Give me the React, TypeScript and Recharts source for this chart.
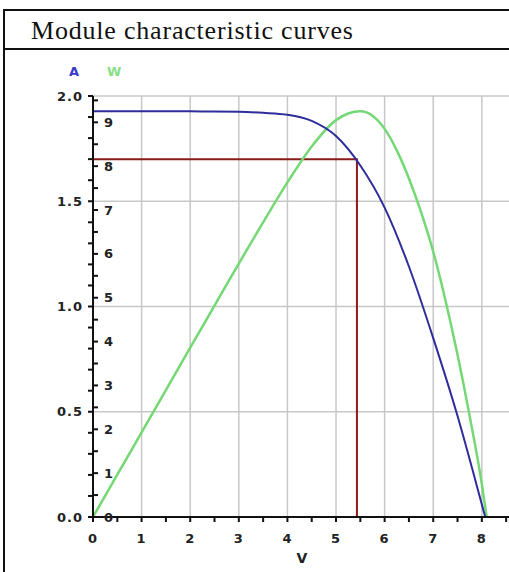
import React from 'react';
import { LineChart, Line, XAxis, YAxis, CartesianGrid } from 'recharts';

// I-V curve (current in A vs voltage in V)
const currentVoltage = [0, 0.5, 1, 1.5, 2, 2.5, 3, 3.5, 4, 4.5, 5, 5.5, 6, 6.5, 7, 7.5, 8, 8.07];
const currentAmps = [1.928, 1.928, 1.928, 1.928, 1.927, 1.926, 1.925, 1.92, 1.911, 1.882, 1.81, 1.67, 1.47, 1.19, 0.85, 0.48, 0.06, 0];

// P-V curve (power in W vs voltage in V)
const powerVoltage = [0, 0.5, 1, 1.5, 2, 2.5, 3, 3.5, 4, 4.5, 5, 5.25, 5.5, 5.75, 6, 6.25, 6.5, 6.75, 7, 7.25, 7.5, 7.75, 8, 8.1];
const powerWatts = [0, 0.965, 1.93, 2.895, 3.86, 4.82, 5.78, 6.72, 7.63, 8.45, 9.05, 9.2, 9.25, 9.15, 8.85, 8.36, 7.72, 6.95, 6.05, 4.95, 3.7, 2.3, 0.75, 0];

// maximum power point
const mppVoltage = 5.43;
const mppCurrent = 1.7;

// ticks
const xTicks = [0, 0.5, 1, 1.5, 2, 2.5, 3, 3.5, 4, 4.5, 5, 5.5, 6, 6.5, 7, 7.5, 8, 8.5];
const aTicks = [0, 0.1, 0.2, 0.3, 0.4, 0.5, 0.6, 0.7, 0.8, 0.9, 1.0, 1.1, 1.2, 1.3, 1.4, 1.5, 1.6, 1.7, 1.8, 1.9, 2.0];
const wTicks = [0, 0.5, 1, 1.5, 2, 2.5, 3, 3.5, 4, 4.5, 5, 5.5, 6, 6.5, 7, 7.5, 8, 8.5, 9, 9.5];
const xGrid = [1, 2, 3, 4, 5, 6, 7, 8];
const aGrid = [0.5, 1.0, 1.5, 2.0];

const currentData = currentVoltage.map((v, i) => ({ v, a: currentAmps[i] }));
const powerData = powerVoltage.map((v, i) => ({ v, w: powerWatts[i] }));
const mppData = [
  { v: 0, a: mppCurrent },
  { v: mppVoltage, a: mppCurrent },
  { v: mppVoltage, a: 0 },
];

const sansFont = '"DejaVu Sans", "Liberation Sans", Arial, sans-serif';
const tickFont = {
  fontSize: 13,
  fontWeight: 'bold',
  fontFamily: sansFont,
  fill: '#222',
  letterSpacing: 1,
};
const axisStroke = { stroke: '#111', strokeWidth: 2 };

export default function App() {
  return (
    <div
      style={{
        position: 'fixed',
        left: 0,
        top: 0,
        width: 509,
        height: 572,
        overflow: 'hidden',
        background: '#fff',
      }}
    >
      <div
        style={{
          position: 'absolute',
          left: 3,
          top: 9,
          width: 560,
          height: 620,
          border: '2px solid #111',
          boxSizing: 'border-box',
        }}
      />
      <div
        style={{
          position: 'absolute',
          left: 3,
          top: 48,
          width: 560,
          height: 2,
          background: '#111',
        }}
      />
      <div
        style={{
          position: 'absolute',
          left: 31,
          top: 18,
          fontFamily: '"Liberation Serif", "Times New Roman", serif',
          fontSize: 26,
          lineHeight: '26px',
          letterSpacing: 0.8,
          color: '#111',
          whiteSpace: 'nowrap',
        }}
      >
        Module characteristic curves
      </div>
      <div
        style={{
          position: 'absolute',
          left: 69,
          top: 64,
          fontFamily: sansFont,
          fontSize: 13,
          fontWeight: 'bold',
          lineHeight: '16px',
          color: '#3a3ac8',
        }}
      >
        A
      </div>
      <div
        style={{
          position: 'absolute',
          left: 107,
          top: 64,
          fontFamily: sansFont,
          fontSize: 13,
          fontWeight: 'bold',
          lineHeight: '16px',
          color: '#86e086',
        }}
      >
        W
      </div>
      <div style={{ position: 'absolute', left: 0, top: 0 }}>
        <LineChart
          width={530}
          height={572}
          margin={{ top: 96, right: 19, left: 33, bottom: 5 }}
        >
          <CartesianGrid
            yAxisId="a"
            horizontalValues={aGrid}
            verticalValues={xGrid}
            stroke="#c8c8c8"
            strokeWidth={1.5}
            strokeDasharray=""
          />
          <XAxis
            dataKey="v"
            type="number"
            domain={[0, 8.6]}
            ticks={xTicks}
            interval={0}
            allowDataOverflow
            tickFormatter={(v: number) => (Number.isInteger(v) ? String(v) : '')}
            tick={tickFont}
            tickSize={5}
            tickMargin={12}
            axisLine={axisStroke}
            tickLine={axisStroke}
            height={50}
            label={{
              value: 'V',
              position: 'insideBottom',
              offset: 4,
              style: {
                fontSize: 14,
                fontWeight: 'bold',
                fontFamily: sansFont,
                fill: '#222',
              },
            }}
          />
          <YAxis
            yAxisId="a"
            type="number"
            domain={[0, 2]}
            ticks={aTicks}
            interval={0}
            width={60}
            tickFormatter={(v: number) => (Math.round(v * 10) % 5 === 0 ? v.toFixed(1) : '')}
            tick={tickFont}
            tickSize={5}
            tickMargin={5}
            axisLine={axisStroke}
            tickLine={axisStroke}
          />
          <YAxis
            yAxisId="w"
            type="number"
            orientation="left"
            mirror
            domain={[0, 9.6]}
            ticks={wTicks}
            interval={0}
            width={40}
            tickFormatter={(v: number) => (Number.isInteger(v) ? String(v) : '')}
            tick={tickFont}
            tickSize={5}
            tickMargin={6}
            axisLine={false}
            tickLine={axisStroke}
          />
          <Line
            data={mppData}
            yAxisId="a"
            dataKey="a"
            type="linear"
            stroke="#8b1a1a"
            strokeWidth={2}
            dot={false}
            isAnimationActive={false}
          />
          <Line
            data={powerData}
            yAxisId="w"
            dataKey="w"
            type="monotone"
            stroke="#74d874"
            strokeWidth={2.5}
            dot={false}
            isAnimationActive={false}
          />
          <Line
            data={currentData}
            yAxisId="a"
            dataKey="a"
            type="monotone"
            stroke="#2d2d9c"
            strokeWidth={2}
            dot={false}
            isAnimationActive={false}
          />
        </LineChart>
      </div>
    </div>
  );
}
